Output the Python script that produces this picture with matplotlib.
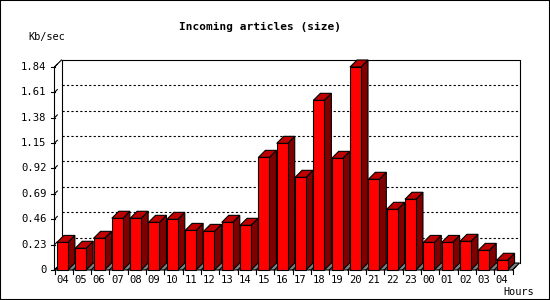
import matplotlib
matplotlib.use("Agg")
import matplotlib.pyplot as plt
from matplotlib.patches import Polygon, Rectangle

hours = ["04", "05", "06", "07", "08", "09", "10", "11", "12", "13", "14", "15", "16",
         "17", "18", "19", "20", "21", "22", "23", "00", "01", "02", "03", "04"]
values = [0.25, 0.197, 0.287, 0.469, 0.469, 0.432, 0.459, 0.359, 0.350, 0.432, 0.405,
          1.021, 1.148, 0.840, 1.538, 1.012, 1.84, 0.822, 0.550, 0.641,
          0.25, 0.25, 0.260, 0.178, 0.088]
yticks = [0, 0.23, 0.46, 0.69, 0.92, 1.15, 1.38, 1.61, 1.84]
ytick_labels = ["0", "0.23", "0.46", "0.69", "0.92", "1.15", "1.38", "1.61", "1.84"]
title = "Incoming articles (size)"
ylabel = "Kb/sec"
xlabel = "Hours"

W, H = 550, 300
fig = plt.figure(figsize=(W / 100, H / 100), dpi=100)
ax = fig.add_axes([0, 0, 1, 1])
ax.set_axis_off()

# pixel mapping helpers (only to set limits)
x0px, xpitch = 54.5, 18.32
y0px, yscale = 270.0, 110.33
ax.set_xlim(-x0px / xpitch, (W - x0px) / xpitch)
ax.set_ylim(-(H - y0px) / yscale, y0px / yscale)

dx = 7 / xpitch
dy = 7 / yscale
n = len(values)
ymax = yticks[-1]
lw = 0.8
mono = "DejaVu Sans Mono"

# outer border
ax.add_patch(Rectangle((0, 0), 1, 1, transform=ax.transAxes, fill=False,
                       edgecolor="black", lw=1.5, clip_on=False, zorder=10))

# floor
ax.add_patch(Polygon([(0, 0), (n, 0), (n + dx, dy), (dx, dy)], closed=True,
                     facecolor="#808080", edgecolor="black", lw=lw, zorder=1))
# back wall frame
ax.plot([dx, dx, n + dx, n + dx], [dy, ymax + dy, ymax + dy, dy], color="black", lw=lw, zorder=1)
# left wall
ax.plot([0, 0, dx], [0, ymax, ymax + dy], color="black", lw=lw, zorder=1)

# gridlines on back wall
for v in yticks[1:-1]:
    ax.plot([dx, n + dx], [v + dy, v + dy], color="black", lw=lw,
            linestyle=(0, (2, 2)), zorder=1.5)

# y ticks and labels
tick_len = 4 / xpitch
for v, lab in zip(yticks, ytick_labels):
    ax.plot([-tick_len, 0], [v, v], color="black", lw=lw, zorder=2)
    ax.plot([0, dx * 0.4], [v, v + dy * 0.4], color="black", lw=lw, zorder=2)
    ax.text(-8 / xpitch, v, lab, ha="right", va="center", fontsize=7.6,
            family=mono, zorder=5)

# x ticks
for k in range(n + 1):
    ax.plot([k, k], [0, -4 / yscale], color="black", lw=lw, zorder=2)
    ax.plot([k, k + dx * 0.5], [0, dy * 0.5], color="black", lw=lw, zorder=2)

# bars
bw = 11 / xpitch
off = 0.13
for i, v in enumerate(values):
    xl = i + off
    xr = xl + bw
    z = 3
    ax.add_patch(Polygon([(xr, 0), (xr + dx, dy), (xr + dx, v + dy), (xr, v)], closed=True,
                         facecolor="#800000", edgecolor="black", lw=lw, zorder=z))
    ax.add_patch(Polygon([(xl, v), (xr, v), (xr + dx, v + dy), (xl + dx, v + dy)], closed=True,
                         facecolor="#c00000", edgecolor="black", lw=lw, zorder=z))
    ax.add_patch(Rectangle((xl, 0), bw, v, facecolor="#ff0000", edgecolor="black",
                           lw=lw, zorder=z))
    ax.text(xl + bw / 2, -10 / yscale, hours[i], ha="center", va="center",
            fontsize=7.6, family=mono, zorder=5)

# texts
ax.text(260 / W, 1 - 26.5 / H, title, transform=ax.transAxes, ha="center", va="center",
        fontsize=8, family=mono, fontweight="bold")
ax.text(28 / W, 1 - 37 / H, ylabel, transform=ax.transAxes, ha="left", va="center",
        fontsize=7.4, family=mono)
ax.text(534 / W, 1 - 292 / H, xlabel, transform=ax.transAxes, ha="right", va="center",
        fontsize=7.4, family=mono)

fig.savefig("out.png", dpi=100, facecolor="white")
